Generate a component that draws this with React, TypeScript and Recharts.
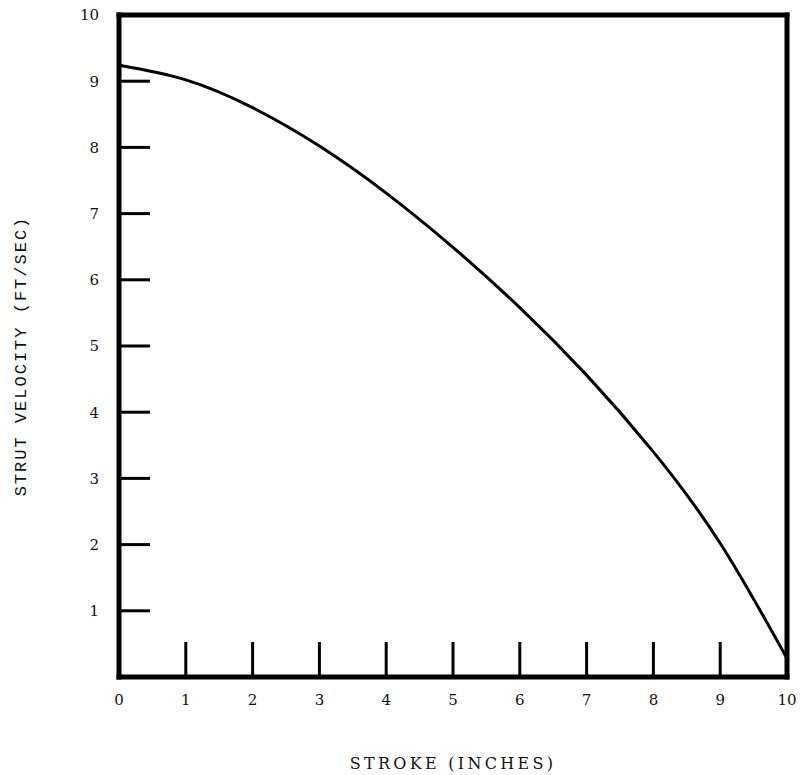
import React from "react";
import { LineChart, Line, XAxis, YAxis, ReferenceLine, Label } from "recharts";

const strokeInches = [0, 1, 2, 3, 4, 5, 6, 7, 8, 9, 10];
const strutVelocity = [9.24, 9.02, 8.6, 8.02, 7.31, 6.49, 5.58, 4.56, 3.4, 2.02, 0.28];
const xTicks = [0, 1, 2, 3, 4, 5, 6, 7, 8, 9, 10];
const yTicks = [1, 2, 3, 4, 5, 6, 7, 8, 9, 10];

const data = strokeInches.map((s, i) => ({ stroke: s, velocity: strutVelocity[i] }));

const tickFont = { fontFamily: "'DejaVu Serif', serif", fontSize: 15, fill: "#111" };

export default function App() {
  return (
    <div style={{ position: "absolute", left: 0, top: 0, background: "#fff" }}>
      <LineChart width={800} height={775} data={data} margin={{ top: 15, right: 13, bottom: 68, left: 59 }}>
        <XAxis
          dataKey="stroke"
          type="number"
          domain={[0, 10]}
          ticks={xTicks}
          interval={0}
          height={30}
          axisLine={{ stroke: "#000", strokeWidth: 5, strokeLinecap: "square" }}
          tickLine={{ stroke: "#000", strokeWidth: 3 }}
          tickSize={-35}
          tickMargin={52}
          tick={tickFont}
        >
          <Label
            value="STROKE (INCHES)"
            position="center"
            dy={71}
            style={{ fontFamily: "'DejaVu Serif', serif", fontSize: 16, letterSpacing: 3.3, fill: "#111" }}
          />
        </XAxis>
        <YAxis
          type="number"
          domain={[0, 10]}
          ticks={yTicks}
          interval={0}
          width={60}
          axisLine={{ stroke: "#000", strokeWidth: 5, strokeLinecap: "square" }}
          tickLine={{ stroke: "#000", strokeWidth: 3 }}
          tickSize={-31}
          tickMargin={51}
          tick={tickFont}
        >
          <Label
            value="STRUT VELOCITY (FT/SEC)"
            angle={-90}
            position="center"
            dx={-69}
            dy={10}
            style={{ fontFamily: "'Liberation Mono', monospace", fontSize: 17, letterSpacing: 2, fill: "#111" }}
          />
        </YAxis>
        <ReferenceLine y={10} stroke="#000" strokeWidth={5} strokeLinecap="square" />
        <ReferenceLine x={10} stroke="#000" strokeWidth={5} strokeLinecap="square" />
        <Line
          dataKey="velocity"
          type="natural"
          stroke="#000"
          strokeWidth={3}
          dot={false}
          isAnimationActive={false}
        />
      </LineChart>
    </div>
  );
}
